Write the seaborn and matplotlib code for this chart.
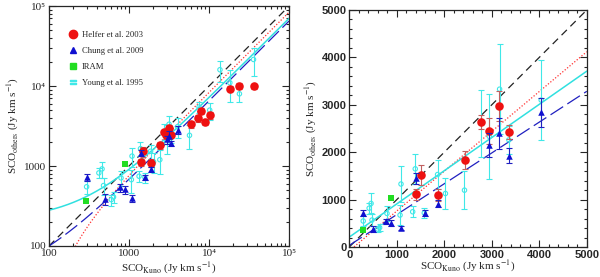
import numpy as np
import pandas as pd
import matplotlib
matplotlib.use("Agg")
import matplotlib.pyplot as plt
import seaborn as sns
from matplotlib.lines import Line2D
from matplotlib.ticker import MultipleLocator, LogLocator, NullFormatter

# Helfer et al. 2003
helfer_x = [1400, 1510, 1870, 2430, 2770, 2940, 3160, 3360, 5900, 7300, 7900, 8900, 10200, 18200, 24000, 36000]
helfer_y = [1110, 1520, 1100, 1830, 2640, 2450, 2980, 2430, 3320, 3950, 4880, 3520, 4300, 9300, 10000, 9900]
helfer_err = [110, 220, 120, 190, 150, 280, 320, 150, 300, 350, 400, 300, 400, 700, 800, 700]

# Chung et al. 2009
chung_x = [295, 500, 780, 880, 1090, 1400, 1585, 1865, 2950, 3160, 3360, 4040]
chung_y = [720, 385, 540, 510, 395, 1450, 720, 915, 2150, 2400, 1930, 2840]
chung_err = [70, 60, 60, 60, 40, 120, 60, 70, 250, 330, 150, 310]

# IRAM
iram_x = [290, 890]
iram_y = [370, 1045]

# Young et al. 1995
young_x = [295, 420, 460, 480, 600, 640, 795, 1070, 1090, 1336, 1390, 1580, 1860, 2025,
           2426, 2770, 2950, 3165, 3360, 4040, 5700, 7500, 10200, 13700, 18200, 24000, 36000]
young_y = [550, 820, 920, 570, 380, 410, 710, 675, 1330, 745, 1650, 720, 1530, 1130,
           1200, 2610, 2330, 3330, 2260, 3100, 2420, 5460, 5000, 16000, 11000, 8000, 21500]
young_err = [100, 120, 210, 130, 60, 70, 150, 210, 370, 120, 320, 100, 300, 320,
             400, 700, 900, 950, 300, 850, 800, 900, 1200, 4800, 4700, 1700, 8000]

# fitted relations: y = slope * x + intercept
fit_names = ["one_to_one", "helfer", "young", "chung"]
fit_slope = [1.0, 0.84, 0.70, 0.65]
fit_intercept = [0, -80, 210, 35]

fit_style = {
    "one_to_one": dict(color="#222222", linestyle=(0, (6, 4)), linewidth=0.9),
    "helfer": dict(color="#ff3030", linestyle=(0, (1, 1.5)), linewidth=0.9),
    "young": dict(color="#30e0e0", linestyle="-", linewidth=1.1),
    "chung": dict(color="#2020c0", linestyle=(0, (12, 4)), linewidth=0.9),
}

sns.set_style("ticks")
plt.rcParams["font.family"] = ["Liberation Serif", "DejaVu Serif"]
plt.rcParams["mathtext.fontset"] = "stix"

fig = plt.figure(figsize=(6, 2.77), dpi=100)
ax1 = fig.add_axes([0.0817, 0.112, 0.40, 0.866])
ax2 = fig.add_axes([0.582, 0.108, 0.396, 0.856])

df_young = pd.DataFrame({"x": young_x, "y": young_y, "err": young_err})
df_helfer = pd.DataFrame({"x": helfer_x, "y": helfer_y, "err": helfer_err})
df_chung = pd.DataFrame({"x": chung_x, "y": chung_y, "err": chung_err})
df_iram = pd.DataFrame({"x": iram_x, "y": iram_y})


def draw(ax, log):
    if log:
        xs = np.logspace(2, 5, 300)
    else:
        xs = np.linspace(0, 5000, 300)
    for name, a, b in zip(fit_names, fit_slope, fit_intercept):
        ys = a * xs + b
        if log:
            ys = np.where(ys > 0, ys, np.nan)
        ax.plot(xs, ys, zorder=1.5, **fit_style[name])

    ax.errorbar(df_young["x"], df_young["y"], yerr=df_young["err"], fmt="none",
                ecolor="#40e8e8", elinewidth=0.8, capsize=2, capthick=0.8, zorder=2)
    sns.scatterplot(data=df_young, x="x", y="y", ax=ax, marker="o", s=10,
                    facecolor="none", edgecolor="#40e8e8", linewidth=0.8, zorder=2.1, legend=False)

    ax.errorbar(df_helfer["x"], df_helfer["y"], yerr=df_helfer["err"], fmt="none",
                ecolor="#c06060", elinewidth=0.8, capsize=2, capthick=0.8, zorder=2.2)
    sns.scatterplot(data=df_helfer, x="x", y="y", ax=ax, marker="o", s=38,
                    color="#ee1111", edgecolor="#ee1111", linewidth=0, zorder=2.3, legend=False)

    ax.errorbar(df_chung["x"], df_chung["y"], yerr=df_chung["err"], fmt="none",
                ecolor="#2020c0", elinewidth=0.8, capsize=2, capthick=0.8, zorder=2.4)
    sns.scatterplot(data=df_chung, x="x", y="y", ax=ax, marker="^", s=22,
                    color="#1010d0", edgecolor="#1010d0", linewidth=0, zorder=2.5, legend=False)

    sns.scatterplot(data=df_iram, x="x", y="y", ax=ax, marker="s", s=22,
                    color="#22dd22", edgecolor="#22dd22", linewidth=0, zorder=2.6, legend=False)

    ax.tick_params(which="both", direction="in", top=True, right=True, width=0.8, pad=2)
    ax.tick_params(which="major", length=5)
    ax.tick_params(which="minor", length=2.5)
    for s in ax.spines.values():
        s.set_linewidth(0.9)
    ax.set_xlabel(r"SCO$_{\rm Kuno}$ (Jy km s$^{-1}$)", fontsize=8)
    ax.set_ylabel(r"SCO$_{\rm others}$ (Jy km s$^{-1}$)", fontsize=8, labelpad=2)


# left: log-log
draw(ax1, True)
ax1.xaxis.set_label_coords(0.5, -0.062)
ax1.set_xscale("log")
ax1.set_yscale("log")
ax1.set_xlim(100, 1e5)
ax1.set_ylim(100, 1e5)
log_ticks = [100, 1000, 1e4, 1e5]
log_labels = ["100", "1000", "10⁴", "10⁵"]
ax1.set_xticks(log_ticks, log_labels, fontsize=8)
ax1.set_yticks(log_ticks, log_labels, fontsize=8)
ax1.xaxis.set_minor_locator(LogLocator(base=10, subs=np.arange(2, 10)))
ax1.yaxis.set_minor_locator(LogLocator(base=10, subs=np.arange(2, 10)))
ax1.xaxis.set_minor_formatter(NullFormatter())
ax1.yaxis.set_minor_formatter(NullFormatter())

handles = [
    Line2D([], [], marker="o", color="#ee1111", linestyle="none", markersize=6),
    Line2D([], [], marker="^", color="#1010d0", linestyle="none", markersize=4.5),
    Line2D([], [], marker="s", color="#22dd22", linestyle="none", markersize=4),
    Line2D([], [], marker="$=$", color="#40e8e8", linestyle="none", markersize=5),
]
labels = ["Helfer et al. 2003", "Chung et al. 2009", "IRAM", "Young et al. 1995"]
ax1.legend(handles, labels, loc="upper left", bbox_to_anchor=(0.05, 0.93), frameon=False,
           fontsize=6.2, handlelength=1, handletextpad=0.5, labelspacing=0.95)

# right: linear
draw(ax2, False)
ax2.xaxis.set_label_coords(0.5, -0.05)
ax2.set_xlim(0, 5000)
ax2.set_ylim(0, 5000)
ax2.xaxis.set_major_locator(MultipleLocator(1000))
ax2.yaxis.set_major_locator(MultipleLocator(1000))
ax2.xaxis.set_minor_locator(MultipleLocator(200))
ax2.yaxis.set_minor_locator(MultipleLocator(200))
for lab in ax2.get_xticklabels() + ax2.get_yticklabels():
    lab.set_fontfamily("Liberation Sans")
    lab.set_fontweight("bold")
    lab.set_fontsize(8)

fig.savefig("out.png", dpi=100)
